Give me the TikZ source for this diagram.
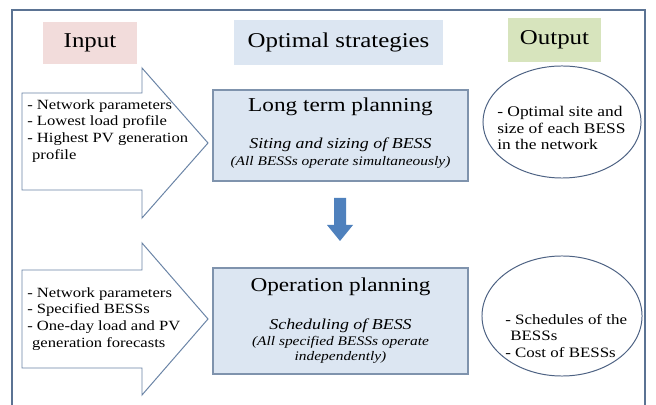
\documentclass[tikz,border=0pt]{standalone}
\usepackage{fontspec}
\setmainfont{Liberation Serif}[FakeStretch=1.18]
\usetikzlibrary{shapes.geometric}

\definecolor{framec}{HTML}{5B7393}
\definecolor{inputc}{HTML}{F2DCDB}
\definecolor{stratc}{HTML}{DCE6F2}
\definecolor{outputc}{HTML}{D7E4BD}
\definecolor{arrowc}{HTML}{6A84A6}
\definecolor{boxline}{HTML}{7F93AD}
\definecolor{ringc}{HTML}{4D6283}
\definecolor{downc}{HTML}{4F81BD}

\begin{document}
\begin{tikzpicture}[%
      x=0.025cm, y=-0.025cm,
      bigarrow/.style={draw=arrowc, fill=white, line width=0.7pt, line join=miter},
      planbox/.style={draw=boxline, fill=stratc, line width=0.8pt},
      ring/.style={draw=ringc, ellipse, line width=0.7pt, minimum width=3.95cm, minimum height=2.8cm, inner sep=0pt},
      headtxt/.style={font=\fontsize{15}{18}\selectfont, inner sep=0pt},
      titletxt/.style={font=\fontsize{14}{17}\selectfont, inner sep=0pt},
      subtxt/.style={font=\fontsize{10.8}{13}\selectfont\itshape, inner sep=0pt},
      notetxt/.style={font=\fontsize{9.3}{10.7}\selectfont\itshape, inner sep=0pt, align=center},
      listtxt/.style={font=\fontsize{10}{12}\selectfont, inner sep=0pt, align=left},
      ringtxt/.style={font=\fontsize{10.5}{12}\selectfont, inner sep=0pt, align=left},
      ]
      \useasboundingbox (0,0) rectangle (656,405);
      \fill [white] (0,0) rectangle (656,405);
      \draw [framec, line width=1.2pt] (12,405) -- (12,10) -- (645,10) -- (645,405);

      % column heads
      \fill [inputc] (43,22) rectangle (137,64);
      \fill [stratc] (234,20) rectangle (443,65);
      \fill [outputc] (508,18) rectangle (601,62);
      \node [headtxt] (input) at (90,43) {Input};
      \node [headtxt] (strat) at (338.5,42.5) {Optimal strategies};
      \node [headtxt] (output) at (554.5,40) {Output};

      % long term planning
      \draw [bigarrow] (22,93) -- (142,93) -- (142,68) -- (208,143) -- (142,218)
            -- (142,190) -- (22,190) -- cycle;
      \node [listtxt, anchor=west] (in1) at (27,131)
            {- Network parameters\\- Lowest load profile\\- Highest PV generation\\\hspace{0.35em}profile};
      \draw [planbox] (213,90) rectangle (468,181);
      \node [titletxt] (long) at (340.5,107) {Long term planning};
      \node [subtxt] (siting) at (340.5,145) {Siting and sizing of BESS};
      \node [notetxt] (simult) at (340.5,162) {(All BESSs operate simultaneously)};
      \node [ring] (out1) at (562,122) {};
      \node [ringtxt, anchor=west] (out1txt) at (497,128)
            {- Optimal site and\\size of each BESS\\in the network};

      % down arrow
      \fill [downc] (334,198) -- (346,198) -- (346,225) -- (353,225) -- (340,241)
            -- (327,225) -- (334,225) -- cycle;

      % operation planning
      \draw [bigarrow] (22,270) -- (142,270) -- (142,243) -- (208,319) -- (142,395)
            -- (142,368) -- (22,368) -- cycle;
      \node [listtxt, anchor=west] (in2) at (27,319)
            {- Network parameters\\- Specified BESSs\\- One-day load and PV\\\hspace{0.35em}generation forecasts};
      \draw [planbox] (213,268) rectangle (468,374);
      \node [titletxt] (oper) at (340.5,287) {Operation planning};
      \node [subtxt] (sched) at (340.5,326) {Scheduling of BESS};
      \node [notetxt] (indep) at (340.5,350) {(All specified BESSs operate\\independently)};
      \node [ring, minimum width=4cm, minimum height=3cm] (out2) at (562,316) {};
      \node [ringtxt, anchor=west, font=\fontsize{10.2}{12}\selectfont] (out2txt) at (505,336)
            {- Schedules of the\\\hspace{0.35em}BESSs\\- Cost of BESSs};
\end{tikzpicture}
\end{document}
